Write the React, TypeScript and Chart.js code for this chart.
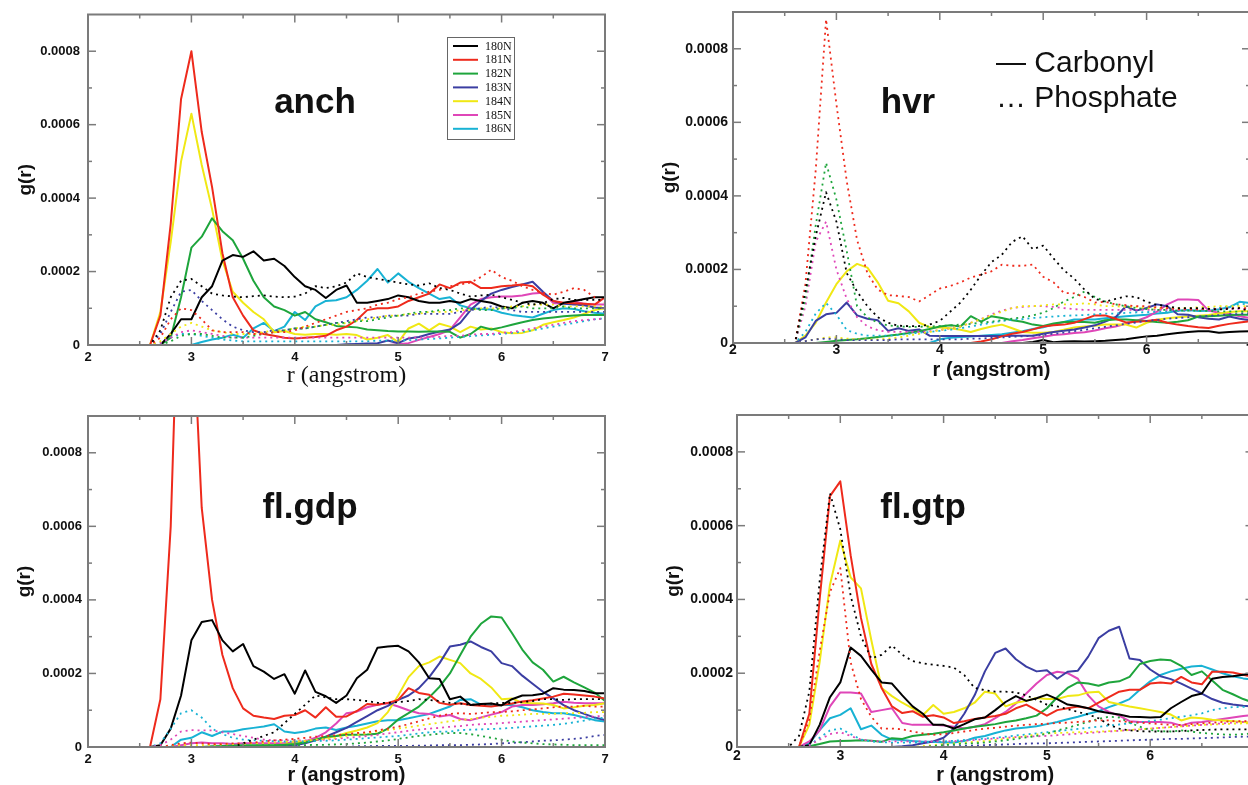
import { useEffect, useRef } from 'react';
import { Chart, registerables } from 'chart.js';

Chart.register(...registerables);

const SANS = "'Liberation Sans', Arial, Helvetica, sans-serif";
const SERIF = "'Liberation Serif', 'Times New Roman', serif";
Chart.defaults.font.family = SANS;

// r (angstrom) sample positions
const R = [2.0, 2.5, 2.6, 2.7, 2.8, 2.9, 3.0, 3.1, 3.2, 3.3, 3.4, 3.5, 3.6, 3.7, 3.8, 3.9, 4.0, 4.1, 4.2, 4.3, 4.4, 4.5, 4.6, 4.7, 4.8, 4.9, 5.0, 5.1, 5.2, 5.3, 5.4, 5.5, 5.6, 5.7, 5.8, 5.9, 6.0, 6.1, 6.2, 6.3, 6.4, 6.5, 6.6, 6.7, 6.8, 6.9, 7.0];
// values below are g(r) in units of 1e-4
const G_UNIT = 1e-4;

const X_MAJOR = [2, 3, 4, 5, 6, 7];
const X_TICK_LABELS = ['2', '3', '4', '5', '6', '7'];
const X_MINOR = [2.5, 3.5, 4.5, 5.5, 6.5];
const Y_TICKS = [0, 0.0002, 0.0004, 0.0006, 0.0008];
const Y_TICK_LABELS = ['0', '0.0002', '0.0004', '0.0006', '0.0008'];
const Y_MINOR = [0.0001, 0.0003, 0.0005, 0.0007];
const Y_MAX = 0.0009;
const X_TITLE = 'r (angstrom)';
const Y_TITLE = 'g(r)';

const RESIDUES = ['180N', '181N', '182N', '183N', '184N', '185N', '186N'];
const COLORS = ['#000000', '#ee2a1c', '#1ea53c', '#3b3ea2', '#f0e814', '#df46b8', '#18b2d4'];
const TYPE_LABELS = ['\u2014 Carbonyl', '\u2026 Phosphate'];

// ---------- anch ----------
const ANCH_180 = [0, 0, 0, 0, 0.3, 0.7, 0.7, 1.3, 1.6, 2.3, 2.45, 2.4, 2.55, 2.3, 2.35, 2.15, 1.85, 1.6, 1.5, 1.28, 1.5, 1.62, 1.15, 1.15, 1.2, 1.25, 1.35, 1.3, 1.2, 1.15, 1.15, 1.2, 1.15, 1.25, 1.2, 1.15, 1.05, 1.0, 1.15, 1.2, 1.15, 1.0, 1.15, 1.2, 1.25, 1.3, 1.3];
const ANCH_181 = [0, 0, 0, 0.8, 3.3, 6.7, 8.0, 5.8, 4.3, 2.5, 1.3, 0.8, 0.4, 0.3, 0.25, 0.2, 0.18, 0.2, 0.22, 0.25, 0.4, 0.5, 0.68, 0.95, 1.0, 1.0, 1.05, 1.2, 1.3, 1.4, 1.65, 1.55, 1.7, 1.72, 1.55, 1.55, 1.6, 1.62, 1.65, 1.6, 1.37, 1.2, 1.15, 1.14, 1.12, 1.1, 1.3];
const ANCH_182 = [0, 0, 0, 0, 0.2, 1.3, 2.65, 2.95, 3.45, 3.1, 2.85, 2.35, 1.75, 1.3, 1.05, 0.95, 0.8, 0.9, 0.7, 0.62, 0.52, 0.5, 0.48, 0.42, 0.4, 0.38, 0.37, 0.37, 0.36, 0.37, 0.37, 0.36, 0.2, 0.3, 0.5, 0.42, 0.48, 0.55, 0.62, 0.68, 0.72, 0.75, 0.78, 0.8, 0.82, 0.82, 0.82];
const ANCH_183 = [0, 0, 0, 0, 0, 0, 0, 0, 0, 0, 0, 0, 0, 0, 0, 0, 0, 0, 0, 0, 0, 0.02, 0.03, 0.04, 0.05, 0.12, 0.05, 0.18, 0.22, 0.3, 0.37, 0.42, 0.6, 0.95, 1.2, 1.4, 1.5, 1.58, 1.65, 1.72, 1.45, 1.2, 1.12, 1.1, 1.08, 1.02, 1.0];
const ANCH_184 = [0, 0, 0, 0.9, 2.8, 5.0, 6.3, 4.9, 3.7, 2.3, 1.45, 1.15, 0.9, 0.7, 0.35, 0.38, 0.3, 0.28, 0.3, 0.3, 0.28, 0.3, 0.27, 0.15, 0.2, 0.27, 0.08, 0.45, 0.58, 0.4, 0.58, 0.5, 0.35, 0.5, 0.42, 0.45, 0.35, 0.32, 0.33, 0.4, 0.55, 0.62, 0.68, 0.75, 0.85, 0.95, 1.0];
const ANCH_185 = [0, 0, 0, 0, 0, 0, 0, 0, 0, 0, 0, 0, 0, 0, 0, 0, 0, 0, 0, 0, 0, 0, 0, 0, 0, 0, 0.02, 0.05, 0.14, 0.22, 0.3, 0.41, 0.75, 1.1, 1.25, 1.3, 1.32, 1.32, 1.35, 1.4, 1.42, 1.14, 1.14, 1.19, 1.12, 1.1, 1.1];
const ANCH_186 = [0, 0, 0, 0, 0, 0, 0, 0.08, 0.15, 0.2, 0.28, 0.2, 0.45, 0.6, 0.38, 0.5, 0.9, 0.68, 1.05, 1.2, 1.22, 1.3, 1.5, 1.75, 2.07, 1.7, 1.95, 1.72, 1.55, 1.4, 1.25, 1.3, 1.08, 1.0, 0.98, 0.97, 0.88, 0.82, 0.78, 0.75, 0.85, 0.95, 1.0, 0.98, 0.92, 0.88, 0.85];
const ANCH_180_P = [0, 0, 0, 0.4, 1.3, 1.75, 1.8, 1.6, 1.4, 1.35, 1.32, 1.3, 1.33, 1.35, 1.32, 1.3, 1.32, 1.4, 1.6, 1.55, 1.6, 1.7, 1.95, 1.85, 1.8, 1.75, 1.7, 1.65, 1.62, 1.68, 1.55, 1.5, 1.4, 1.32, 1.35, 1.37, 1.3, 1.23, 1.15, 1.1, 1.14, 1.25, 1.28, 1.23, 1.23, 1.23, 1.23];
const ANCH_181_P = [0, 0, 0, 0.2, 0.7, 1.0, 0.95, 0.7, 0.4, 0.35, 0.35, 0.35, 0.3, 0.3, 0.35, 0.35, 0.4, 0.5, 0.6, 0.7, 0.8, 0.9, 0.95, 1.0, 1.1, 1.15, 1.25, 1.3, 1.4, 1.45, 1.5, 1.6, 1.65, 1.7, 1.85, 2.05, 1.85, 1.75, 1.6, 1.5, 1.42, 1.37, 1.45, 1.55, 1.5, 1.3, 1.15];
const ANCH_182_P = [0, 0, 0, 0, 0.1, 0.25, 0.3, 0.3, 0.25, 0.2, 0.2, 0.2, 0.25, 0.3, 0.35, 0.4, 0.45, 0.45, 0.5, 0.55, 0.6, 0.6, 0.65, 0.65, 0.7, 0.75, 0.8, 0.85, 0.9, 0.9, 0.95, 0.95, 1.0, 1.0, 0.95, 0.95, 1.0, 1.0, 1.05, 1.0, 1.0, 1.0, 1.05, 1.0, 1.0, 1.0, 1.0];
const ANCH_183_P = [0, 0, 0, 0.3, 0.9, 1.45, 1.5, 1.2, 0.95, 0.7, 0.5, 0.4, 0.35, 0.35, 0.4, 0.4, 0.45, 0.45, 0.5, 0.55, 0.6, 0.65, 0.7, 0.75, 0.75, 0.8, 0.8, 0.8, 0.85, 0.85, 0.85, 0.85, 0.9, 0.95, 1.0, 1.05, 1.0, 0.95, 0.9, 0.9, 0.9, 0.9, 0.9, 0.9, 0.9, 0.9, 0.9];
const ANCH_184_P = [0, 0, 0, 0.1, 0.3, 0.5, 0.6, 0.5, 0.4, 0.35, 0.3, 0.3, 0.3, 0.35, 0.4, 0.4, 0.45, 0.5, 0.5, 0.55, 0.55, 0.6, 0.65, 0.7, 0.75, 0.8, 0.8, 0.85, 0.85, 0.9, 0.9, 0.9, 0.95, 0.95, 1.0, 1.0, 1.0, 1.05, 1.05, 1.1, 1.1, 1.1, 1.05, 1.05, 1.05, 1.05, 1.05];
const ANCH_185_P = [0, 0, 0, 0.05, 0.2, 0.35, 0.4, 0.35, 0.3, 0.25, 0.2, 0.2, 0.2, 0.2, 0.2, 0.2, 0.2, 0.2, 0.2, 0.2, 0.2, 0.2, 0.2, 0.2, 0.2, 0.2, 0.2, 0.2, 0.2, 0.22, 0.22, 0.25, 0.25, 0.28, 0.3, 0.3, 0.33, 0.35, 0.4, 0.45, 0.5, 0.55, 0.6, 0.65, 0.68, 0.7, 0.72];
const ANCH_186_P = [0, 0, 0, 0.05, 0.2, 0.3, 0.3, 0.25, 0.2, 0.15, 0.12, 0.1, 0.1, 0.1, 0.1, 0.1, 0.1, 0.1, 0.1, 0.1, 0.1, 0.1, 0.1, 0.1, 0.12, 0.12, 0.12, 0.13, 0.15, 0.16, 0.18, 0.2, 0.22, 0.24, 0.26, 0.28, 0.3, 0.33, 0.36, 0.4, 0.45, 0.5, 0.55, 0.6, 0.65, 0.7, 0.73];

// ---------- hvr ----------
const HVR_180 = [0, 0, 0, 0, 0, 0, 0, 0, 0, 0, 0, 0, 0, 0, 0, 0, 0, 0, 0, 0, 0, 0, 0, 0, 0, 0.03, 0.08, 0.02, 0.04, 0.05, 0.04, 0.05, 0.06, 0.08, 0.1, 0.14, 0.18, 0.2, 0.24, 0.27, 0.3, 0.32, 0.32, 0.28, 0.3, 0.31, 0.32];
const HVR_181 = [0, 0, 0, 0, 0, 0, 0, 0, 0, 0, 0, 0, 0, 0, 0, 0, 0, 0, 0, 0, 0.04, 0.1, 0.18, 0.25, 0.3, 0.37, 0.45, 0.48, 0.5, 0.55, 0.65, 0.75, 0.75, 0.66, 0.56, 0.58, 0.6, 0.63, 0.55, 0.5, 0.46, 0.43, 0.41, 0.47, 0.52, 0.56, 0.59];
const HVR_182 = [0, 0, 0, 0, 0, 0.03, 0.06, 0.08, 0.1, 0.13, 0.16, 0.2, 0.23, 0.27, 0.32, 0.38, 0.45, 0.48, 0.45, 0.73, 0.58, 0.73, 0.68, 0.62, 0.58, 0.5, 0.46, 0.53, 0.57, 0.58, 0.57, 0.55, 0.62, 0.64, 0.64, 0.62, 0.6, 0.57, 0.55, 0.58, 0.62, 0.72, 0.73, 0.74, 0.76, 0.77, 0.77];
const HVR_183 = [0, 0, 0, 0.15, 0.6, 0.78, 0.82, 1.1, 0.75, 0.66, 0.62, 0.33, 0.4, 0.33, 0.37, 0.2, 0.19, 0.19, 0.19, 0.19, 0.19, 0.19, 0.19, 0.2, 0.2, 0.2, 0.25, 0.3, 0.33, 0.37, 0.42, 0.48, 0.58, 0.7, 1.0, 0.88, 0.95, 1.05, 1.0, 0.78, 0.77, 0.7, 0.66, 0.64, 0.72, 0.66, 0.62];
const HVR_184 = [0, 0, 0, 0.2, 0.55, 1.1, 1.6, 1.95, 2.15, 2.05, 1.65, 1.15, 1.08, 0.86, 0.55, 0.43, 0.42, 0.4, 0.36, 0.3, 0.38, 0.45, 0.5, 0.4, 0.3, 0.28, 0.28, 0.3, 0.36, 0.42, 0.45, 0.47, 0.5, 0.5, 0.5, 0.42, 0.55, 0.63, 0.67, 0.7, 0.72, 0.74, 0.76, 0.8, 0.84, 0.86, 0.86];
const HVR_185 = [0, 0, 0, 0, 0, 0, 0, 0, 0, 0, 0, 0, 0, 0, 0, 0, 0, 0, 0, 0, 0, 0, 0, 0.05, 0.08, 0.13, 0.17, 0.22, 0.24, 0.27, 0.29, 0.34, 0.4, 0.45, 0.52, 0.6, 0.7, 0.85, 1.05, 1.18, 1.18, 1.17, 0.88, 0.82, 0.79, 0.73, 0.68];
const HVR_186 = [0, 0, 0, 0, 0, 0, 0, 0, 0, 0, 0, 0, 0, 0, 0, 0, 0.1, 0.14, 0.16, 0.18, 0.2, 0.22, 0.24, 0.28, 0.32, 0.38, 0.43, 0.5, 0.57, 0.64, 0.64, 0.64, 0.67, 0.7, 0.73, 0.75, 0.77, 0.8, 0.82, 0.88, 0.9, 0.87, 0.88, 0.92, 0.97, 1.12, 1.09];
const HVR_180_P = [0, 0, 0, 1.4, 2.9, 4.1, 3.3, 1.9, 1.4, 1.0, 0.7, 0.55, 0.47, 0.46, 0.46, 0.5, 0.6, 0.85, 1.1, 1.45, 1.85, 2.2, 2.4, 2.75, 2.9, 2.55, 2.65, 2.3, 1.98, 1.75, 1.45, 1.2, 1.12, 1.2, 1.27, 1.25, 1.12, 1.04, 1.0, 0.95, 0.95, 0.95, 0.93, 0.91, 0.93, 0.95, 0.86];
const HVR_181_P = [0, 0, 0, 1.6, 4.7, 8.8, 6.5, 4.4, 2.8, 1.9, 1.45, 1.3, 1.28, 1.25, 1.13, 1.3, 1.48, 1.55, 1.65, 1.78, 1.86, 1.95, 2.13, 2.1, 2.1, 2.13, 1.8, 1.65, 1.36, 1.35, 1.25, 1.1, 1.12, 1.05, 1.03, 1.0, 1.0, 0.97, 0.95, 0.92, 0.91, 0.91, 0.92, 0.93, 0.95, 0.95, 0.95];
const HVR_182_P = [0, 0, 0, 1.2, 3.2, 4.9, 3.9, 2.5, 1.0, 0.7, 0.55, 0.48, 0.45, 0.44, 0.44, 0.45, 0.46, 0.48, 0.5, 0.52, 0.55, 0.58, 0.62, 0.66, 0.7, 0.75, 0.82, 0.95, 1.13, 1.25, 1.4, 1.25, 1.13, 1.05, 1.0, 0.95, 0.92, 0.9, 0.9, 0.88, 0.88, 0.88, 0.87, 0.86, 0.86, 0.85, 0.85];
const HVR_183_P = [0, 0, 0, 0.05, 0.1, 0.12, 0.1, 0.08, 0.08, 0.08, 0.08, 0.08, 0.1, 0.1, 0.1, 0.1, 0.1, 0.1, 0.1, 0.12, 0.12, 0.14, 0.15, 0.17, 0.18, 0.2, 0.22, 0.25, 0.28, 0.32, 0.36, 0.4, 0.44, 0.48, 0.52, 0.56, 0.6, 0.63, 0.66, 0.68, 0.7, 0.72, 0.74, 0.76, 0.78, 0.79, 0.8];
const HVR_184_P = [0, 0, 0, 0.05, 0.1, 0.15, 0.15, 0.12, 0.1, 0.1, 0.1, 0.12, 0.15, 0.2, 0.25, 0.3, 0.35, 0.4, 0.45, 0.55, 0.65, 0.75, 0.85, 0.95, 1.0, 1.0, 1.02, 1.05, 1.05, 1.05, 1.08, 1.05, 1.0, 1.0, 0.98, 0.98, 0.95, 0.95, 0.95, 0.95, 0.95, 0.97, 0.98, 1.0, 1.0, 1.0, 1.0];
const HVR_185_P = [0, 0, 0, 1.0, 2.75, 3.3, 2.0, 1.2, 0.7, 0.45, 0.35, 0.3, 0.3, 0.3, 0.3, 0.32, 0.35, 0.4, 0.45, 0.55, 0.65, 0.78, 0.88, 0.95, 0.98, 1.0, 1.0, 0.98, 0.95, 0.92, 0.9, 0.9, 0.9, 0.9, 0.9, 0.9, 0.9, 0.9, 0.9, 0.9, 0.92, 0.92, 0.92, 0.92, 0.93, 0.93, 0.93];
const HVR_186_P = [0, 0, 0, 0.3, 0.8, 1.09, 0.77, 0.35, 0.25, 0.2, 0.2, 0.2, 0.22, 0.25, 0.28, 0.3, 0.33, 0.36, 0.4, 0.45, 0.5, 0.55, 0.6, 0.63, 0.65, 0.68, 0.7, 0.72, 0.74, 0.75, 0.76, 0.78, 0.8, 0.8, 0.82, 0.83, 0.84, 0.85, 0.86, 0.87, 0.88, 0.9, 0.92, 0.95, 1.0, 1.05, 1.08];

// ---------- fl.gdp ----------
const GDP_180 = [0, 0, 0, 0.05, 0.5, 1.4, 2.9, 3.4, 3.45, 2.9, 2.6, 2.8, 2.2, 2.05, 1.85, 1.98, 1.45, 2.08, 1.5, 1.38, 1.2, 1.4, 1.87, 2.1, 2.7, 2.73, 2.75, 2.6, 2.3, 1.87, 1.85, 1.3, 1.37, 1.14, 1.17, 1.18, 1.13, 1.3, 1.4, 1.41, 1.45, 1.6, 1.56, 1.55, 1.52, 1.46, 1.46];
const GDP_181 = [0, 0, 0, 1.3, 6.0, 15, 12.5, 6.5, 4.0, 2.5, 1.6, 1.05, 0.85, 0.8, 0.76, 0.85, 0.87, 1.0, 0.8, 1.08, 0.82, 0.83, 0.98, 1.17, 1.15, 1.2, 1.28, 1.6, 1.47, 1.42, 1.2, 1.15, 1.19, 1.14, 1.12, 1.1, 1.14, 1.18, 1.24, 1.27, 1.32, 1.37, 1.45, 1.43, 1.4, 1.37, 1.32];
const GDP_182 = [0, 0, 0, 0, 0, 0, 0, 0, 0.02, 0.03, 0.04, 0.05, 0.05, 0.05, 0.05, 0.06, 0.08, 0.12, 0.2, 0.28, 0.3, 0.33, 0.33, 0.34, 0.36, 0.5, 0.75, 0.92, 1.1, 1.35, 1.64, 2.0, 2.5, 3.0, 3.35, 3.55, 3.52, 3.1, 2.65, 2.3, 2.1, 1.78, 1.91, 1.76, 1.62, 1.48, 1.25];
const GDP_183 = [0, 0, 0, 0, 0, 0, 0, 0, 0, 0, 0, 0.02, 0.02, 0.02, 0.03, 0.03, 0.05, 0.1, 0.18, 0.28, 0.4, 0.52, 0.68, 0.84, 1.0, 1.12, 1.28, 1.4, 1.6, 1.9, 2.28, 2.73, 2.78, 2.87, 2.72, 2.6, 2.28, 2.2, 1.94, 1.72, 1.5, 1.32, 1.14, 1.0, 0.9, 0.8, 0.73];
const GDP_184 = [0, 0, 0, 0, 0, 0, 0, 0, 0, 0, 0, 0.02, 0.03, 0.04, 0.05, 0.07, 0.1, 0.15, 0.2, 0.25, 0.3, 0.38, 0.45, 0.53, 0.65, 0.95, 1.4, 1.9, 2.2, 2.3, 2.46, 2.37, 2.28, 2.0, 1.85, 1.62, 1.3, 1.32, 1.2, 1.19, 1.18, 1.14, 1.05, 1.08, 1.12, 1.14, 1.19];
const GDP_185 = [0, 0, 0, 0, 0, 0.05, 0.1, 0.12, 0.1, 0.1, 0.08, 0.1, 0.1, 0.1, 0.1, 0.1, 0.12, 0.15, 0.25, 0.4, 0.64, 0.92, 0.96, 1.08, 1.15, 1.19, 1.1, 1.0, 0.92, 0.9, 0.83, 0.87, 0.76, 0.73, 0.8, 0.88, 0.95, 1.1, 1.14, 1.14, 1.16, 1.19, 1.23, 1.2, 1.19, 1.19, 1.19];
const GDP_186 = [0, 0, 0, 0, 0, 0.2, 0.25, 0.4, 0.3, 0.42, 0.42, 0.48, 0.52, 0.56, 0.62, 0.42, 0.38, 0.42, 0.5, 0.53, 0.46, 0.53, 0.58, 0.64, 0.7, 0.73, 0.73, 0.78, 0.84, 0.9, 1.0, 1.1, 1.28, 1.3, 1.15, 1.12, 1.14, 1.14, 1.08, 1.0, 0.95, 0.92, 0.92, 0.87, 0.8, 0.73, 0.69];
const GDP_180_P = [0, 0, 0, 0, 0, 0, 0, 0, 0, 0, 0, 0.1, 0.2, 0.3, 0.4, 0.65, 0.9, 1.15, 1.4, 1.35, 1.3, 1.3, 1.28, 1.25, 1.2, 1.2, 1.22, 1.25, 1.3, 1.28, 1.25, 1.2, 1.18, 1.15, 1.15, 1.18, 1.2, 1.2, 1.22, 1.25, 1.3, 1.3, 1.28, 1.3, 1.3, 1.3, 1.3];
const GDP_181_P = [0, 0, 0, 0, 0.05, 0.1, 0.12, 0.1, 0.08, 0.08, 0.1, 0.1, 0.12, 0.15, 0.18, 0.2, 0.22, 0.25, 0.28, 0.3, 0.32, 0.35, 0.38, 0.4, 0.45, 0.5, 0.55, 0.62, 0.7, 0.78, 0.85, 0.9, 0.92, 0.9, 0.92, 0.95, 0.95, 0.97, 1.0, 1.02, 1.05, 1.08, 1.1, 1.1, 1.12, 1.1, 1.1];
const GDP_182_P = [0, 0, 0, 0, 0, 0, 0, 0, 0, 0, 0.02, 0.03, 0.04, 0.05, 0.05, 0.05, 0.05, 0.05, 0.06, 0.06, 0.07, 0.08, 0.1, 0.12, 0.15, 0.18, 0.22, 0.26, 0.3, 0.33, 0.36, 0.38, 0.38, 0.35, 0.3, 0.25, 0.2, 0.15, 0.12, 0.1, 0.08, 0.07, 0.06, 0.05, 0.05, 0.05, 0.05];
const GDP_183_P = [0, 0, 0, 0, 0, 0, 0, 0, 0, 0, 0, 0, 0, 0, 0, 0, 0, 0, 0, 0, 0, 0, 0.02, 0.02, 0.03, 0.03, 0.03, 0.03, 0.04, 0.04, 0.05, 0.05, 0.05, 0.06, 0.07, 0.08, 0.1, 0.11, 0.13, 0.15, 0.17, 0.18, 0.2, 0.22, 0.25, 0.3, 0.33];
const GDP_184_P = [0, 0, 0, 0, 0.03, 0.05, 0.05, 0.05, 0.06, 0.07, 0.08, 0.09, 0.1, 0.11, 0.12, 0.14, 0.15, 0.17, 0.2, 0.22, 0.25, 0.3, 0.33, 0.37, 0.42, 0.46, 0.5, 0.54, 0.58, 0.62, 0.66, 0.7, 0.73, 0.76, 0.8, 0.82, 0.85, 0.86, 0.88, 0.9, 0.9, 0.9, 0.92, 0.92, 0.93, 0.95, 0.95];
const GDP_185_P = [0, 0, 0, 0.05, 0.2, 0.42, 0.46, 0.45, 0.45, 0.4, 0.35, 0.3, 0.25, 0.2, 0.18, 0.18, 0.18, 0.18, 0.19, 0.2, 0.22, 0.25, 0.27, 0.3, 0.33, 0.37, 0.4, 0.44, 0.47, 0.5, 0.52, 0.55, 0.57, 0.6, 0.62, 0.63, 0.65, 0.67, 0.69, 0.71, 0.73, 0.75, 0.77, 0.79, 0.81, 0.83, 0.85];
const GDP_186_P = [0, 0, 0, 0.1, 0.5, 0.92, 1.0, 0.8, 0.5, 0.35, 0.25, 0.2, 0.18, 0.17, 0.16, 0.15, 0.15, 0.15, 0.16, 0.17, 0.18, 0.2, 0.22, 0.24, 0.26, 0.28, 0.3, 0.33, 0.37, 0.4, 0.42, 0.42, 0.46, 0.47, 0.48, 0.49, 0.5, 0.52, 0.54, 0.56, 0.58, 0.6, 0.63, 0.67, 0.72, 0.77, 0.8];

// ---------- fl.gtp ----------
const GTP_180 = [0, 0, 0, 0.05, 0.6, 1.35, 1.75, 2.7, 2.47, 2.1, 1.75, 1.72, 1.4, 1.1, 0.9, 0.6, 0.6, 0.5, 0.62, 0.75, 0.8, 1.0, 1.22, 1.38, 1.25, 1.32, 1.42, 1.3, 1.15, 1.11, 1.05, 0.97, 0.92, 0.88, 0.82, 0.81, 0.8, 0.81, 1.05, 1.22, 1.38, 1.45, 1.85, 1.9, 1.92, 1.96, 1.99];
const GTP_181 = [0, 0, 0, 0.9, 4.0, 6.8, 7.2, 5.2, 3.5, 2.25, 1.6, 1.1, 0.92, 0.97, 0.82, 0.86, 0.8, 0.65, 0.7, 0.76, 0.8, 0.84, 0.9, 1.05, 1.15, 1.0, 0.85, 1.0, 1.05, 1.1, 1.05, 1.2, 1.35, 1.5, 1.55, 1.55, 1.72, 1.75, 1.72, 1.9, 1.75, 1.7, 2.04, 2.04, 2.02, 1.96, 1.9];
const GTP_182 = [0, 0, 0, 0.02, 0.08, 0.15, 0.16, 0.17, 0.18, 0.17, 0.14, 0.24, 0.22, 0.3, 0.33, 0.36, 0.4, 0.45, 0.5, 0.55, 0.58, 0.62, 0.68, 0.72, 0.78, 0.85, 1.05, 1.35, 1.6, 1.75, 1.72, 1.66, 1.75, 1.78, 1.9, 2.25, 2.33, 2.37, 2.35, 2.2, 1.95, 2.05, 1.8, 1.55, 1.43, 1.3, 1.2];
const GTP_183 = [0, 0, 0, 0, 0, 0, 0, 0, 0, 0, 0, 0, 0.02, 0.05, 0.1, 0.15, 0.25, 0.5, 0.9, 1.4, 2.05, 2.55, 2.67, 2.38, 2.18, 2.05, 2.08, 1.85, 2.04, 2.07, 2.45, 2.95, 3.15, 3.26, 2.4, 2.36, 2.1, 1.92, 1.84, 1.72, 1.58, 1.45, 1.3, 1.2, 1.15, 1.12, 1.1];
const GTP_184 = [0, 0, 0, 0.6, 2.3, 4.4, 5.6, 4.6, 4.3, 2.9, 1.6, 1.38, 1.2, 1.05, 0.87, 1.14, 0.9, 0.95, 1.05, 1.2, 1.5, 1.45, 1.1, 1.2, 1.25, 1.33, 1.3, 1.3, 1.38, 1.4, 1.48, 1.5, 1.22, 1.16, 1.1, 1.05, 1.0, 0.95, 0.88, 0.72, 0.8, 0.78, 0.74, 0.72, 0.7, 0.68, 0.66];
const GTP_185 = [0, 0, 0, 0.15, 0.45, 1.1, 1.48, 1.48, 1.45, 0.95, 1.0, 1.05, 0.65, 0.6, 0.6, 0.6, 0.58, 0.55, 0.5, 0.55, 0.62, 0.78, 0.95, 1.18, 1.45, 1.72, 1.95, 2.04, 2.0, 1.85, 1.4, 1.1, 0.95, 0.85, 0.7, 0.68, 0.68, 0.68, 0.66, 0.58, 0.66, 0.68, 0.72, 0.76, 0.8, 0.84, 0.87];
const GTP_186 = [0, 0, 0, 0.1, 0.46, 0.78, 0.87, 1.05, 0.48, 0.58, 0.33, 0.2, 0.19, 0.16, 0.14, 0.14, 0.12, 0.12, 0.16, 0.25, 0.3, 0.38, 0.45, 0.5, 0.53, 0.56, 0.62, 0.68, 0.75, 0.82, 0.9, 0.97, 1.08, 1.18, 1.3, 1.55, 1.78, 1.95, 2.05, 2.12, 2.18, 2.2, 2.1, 2.0, 1.92, 1.86, 1.82];
const GTP_180_P = [0, 0, 0.3, 1.5, 4.5, 6.88, 5.9, 4.1, 3.0, 2.4, 2.5, 2.75, 2.5, 2.33, 2.27, 2.23, 2.2, 2.15, 1.95, 1.6, 1.54, 1.5, 1.5, 1.48, 1.4, 1.28, 1.15, 1.1, 1.03, 0.95, 0.88, 0.78, 0.6, 0.5, 0.45, 0.43, 0.42, 0.42, 0.42, 0.43, 0.45, 0.46, 0.47, 0.48, 0.48, 0.48, 0.48];
const GTP_181_P = [0, 0, 0, 0.75, 2.6, 4.2, 4.85, 2.3, 1.3, 0.82, 0.5, 0.5, 0.48, 0.42, 0.37, 0.33, 0.35, 0.38, 0.42, 0.46, 0.5, 0.52, 0.55, 0.58, 0.6, 0.62, 0.63, 0.65, 0.66, 0.68, 0.7, 0.72, 0.72, 0.7, 0.68, 0.66, 0.64, 0.62, 0.6, 0.6, 0.62, 0.64, 0.66, 0.68, 0.7, 0.7, 0.7];
const GTP_182_P = [0, 0, 0, 0, 0, 0, 0, 0, 0, 0, 0, 0, 0, 0, 0, 0.03, 0.05, 0.07, 0.09, 0.1, 0.12, 0.15, 0.18, 0.22, 0.26, 0.3, 0.36, 0.45, 0.52, 0.6, 0.68, 0.76, 0.82, 0.8, 0.66, 0.55, 0.46, 0.43, 0.42, 0.45, 0.42, 0.38, 0.36, 0.34, 0.33, 0.35, 0.37];
const GTP_183_P = [0, 0, 0, 0, 0, 0, 0, 0, 0, 0, 0, 0, 0, 0, 0, 0, 0, 0.02, 0.03, 0.04, 0.05, 0.06, 0.07, 0.08, 0.09, 0.1, 0.1, 0.11, 0.12, 0.13, 0.14, 0.15, 0.16, 0.17, 0.18, 0.19, 0.2, 0.21, 0.22, 0.22, 0.23, 0.24, 0.25, 0.26, 0.27, 0.28, 0.28];
const GTP_184_P = [0, 0, 0, 0, 0, 0, 0, 0, 0, 0, 0, 0, 0, 0, 0.03, 0.05, 0.08, 0.1, 0.12, 0.14, 0.16, 0.19, 0.22, 0.26, 0.3, 0.34, 0.37, 0.38, 0.39, 0.4, 0.41, 0.42, 0.43, 0.44, 0.46, 0.48, 0.5, 0.52, 0.54, 0.56, 0.58, 0.6, 0.61, 0.62, 0.63, 0.64, 0.64];
const GTP_185_P = [0, 0, 0, 0.05, 0.2, 0.35, 0.4, 0.3, 0.2, 0.17, 0.15, 0.15, 0.15, 0.15, 0.15, 0.15, 0.15, 0.16, 0.17, 0.19, 0.21, 0.23, 0.25, 0.27, 0.28, 0.29, 0.3, 0.32, 0.34, 0.36, 0.38, 0.4, 0.42, 0.44, 0.46, 0.48, 0.5, 0.52, 0.54, 0.56, 0.58, 0.6, 0.62, 0.64, 0.66, 0.68, 0.7];
const GTP_186_P = [0, 0, 0, 0.05, 0.25, 0.45, 0.5, 0.35, 0.2, 0.15, 0.13, 0.12, 0.12, 0.12, 0.13, 0.14, 0.15, 0.17, 0.19, 0.21, 0.23, 0.25, 0.28, 0.31, 0.34, 0.37, 0.4, 0.43, 0.46, 0.49, 0.52, 0.55, 0.58, 0.61, 0.64, 0.67, 0.7, 0.74, 0.78, 0.82, 0.86, 0.91, 1.0, 1.05, 1.08, 1.09, 1.09];

type PanelDef = {
  key: string;
  title: string;
  left: number;
  top: number;
  width: number;
  height: number;
  area: { l: number; r: number; t: number; b: number };
  solid: number[][];
  phosphate: number[][];
  xTitleFamily: string;
  xTitleSize: number;
  xTitleWeight: string;
  xTitleCy: number;
  yTitleCx: number;
  yTickPad: number;
  tickSize: number;
  xTickPad: number;
  titleX: number;
  titleY: number;
  legend: 'residues' | 'types' | null;
};

const PANELS: PanelDef[] = [
  {
    key: 'anch', title: 'anch', left: 0, top: 0, width: 620, height: 392,
    area: { l: 88, r: 605, t: 14, b: 345 },
    solid: [ANCH_180, ANCH_181, ANCH_182, ANCH_183, ANCH_184, ANCH_185, ANCH_186],
    phosphate: [ANCH_180_P, ANCH_181_P, ANCH_182_P, ANCH_183_P, ANCH_184_P, ANCH_185_P, ANCH_186_P],
    xTitleFamily: SERIF, xTitleSize: 24, xTitleWeight: 'normal', xTitleCy: 376,
    yTitleCx: 26, yTickPad: 8, tickSize: 13, xTickPad: 5.5, titleX: 315, titleY: 113, legend: 'residues',
  },
  {
    key: 'hvr', title: 'hvr', left: 620, top: 0, width: 640, height: 392,
    area: { l: 113, r: 630, t: 10, b: 343 },
    solid: [HVR_180, HVR_181, HVR_182, HVR_183, HVR_184, HVR_185, HVR_186],
    phosphate: [HVR_180_P, HVR_181_P, HVR_182_P, HVR_183_P, HVR_184_P, HVR_185_P, HVR_186_P],
    xTitleFamily: SANS, xTitleSize: 20, xTitleWeight: 'bold', xTitleCy: 370,
    yTitleCx: 50, yTickPad: 5, tickSize: 14, xTickPad: 0, titleX: 288, titleY: 113, legend: 'types',
  },
  {
    key: 'gdp', title: 'fl.gdp', left: 0, top: 392, width: 620, height: 393,
    area: { l: 88, r: 605, t: 24, b: 355 },
    solid: [GDP_180, GDP_181, GDP_182, GDP_183, GDP_184, GDP_185, GDP_186],
    phosphate: [GDP_180_P, GDP_181_P, GDP_182_P, GDP_183_P, GDP_184_P, GDP_185_P, GDP_186_P],
    xTitleFamily: SANS, xTitleSize: 20, xTitleWeight: 'bold', xTitleCy: 383,
    yTitleCx: 25, yTickPad: 6, tickSize: 13, xTickPad: 5.5, titleX: 310, titleY: 126, legend: null,
  },
  {
    key: 'gtp', title: 'fl.gtp', left: 620, top: 392, width: 640, height: 393,
    area: { l: 117, r: 633.5, t: 23, b: 355 },
    solid: [GTP_180, GTP_181, GTP_182, GTP_183, GTP_184, GTP_185, GTP_186],
    phosphate: [GTP_180_P, GTP_181_P, GTP_182_P, GTP_183_P, GTP_184_P, GTP_185_P, GTP_186_P],
    xTitleFamily: SANS, xTitleSize: 20, xTitleWeight: 'bold', xTitleCy: 383,
    yTitleCx: 54, yTickPad: 4, tickSize: 14, xTickPad: 2, titleX: 303, titleY: 126, legend: null,
  },
];

const FRAME_COLOR = '#7b7b7b';

const framePlugin = {
  id: 'frameTicks',
  afterDatasetsDraw(chart: any) {
    const { ctx, chartArea: a, scales } = chart;
    const x = scales.x;
    const y = scales.y;
    ctx.save();
    ctx.strokeStyle = FRAME_COLOR;
    ctx.lineWidth = 1.5;
    const seg = (x1: number, y1: number, x2: number, y2: number) => {
      ctx.beginPath();
      ctx.moveTo(x1, y1);
      ctx.lineTo(x2, y2);
      ctx.stroke();
    };
    X_MAJOR.forEach((v) => {
      const px = x.getPixelForValue(v);
      seg(px, a.bottom, px, a.bottom - 8);
      seg(px, a.top, px, a.top + 8);
    });
    X_MINOR.forEach((v) => {
      const px = x.getPixelForValue(v);
      seg(px, a.bottom, px, a.bottom - 4);
      seg(px, a.top, px, a.top + 4);
    });
    Y_TICKS.forEach((v) => {
      const py = y.getPixelForValue(v);
      seg(a.left, py, a.left + 8, py);
      seg(a.right, py, a.right - 8, py);
    });
    Y_MINOR.forEach((v) => {
      const py = y.getPixelForValue(v);
      seg(a.left, py, a.left + 4, py);
      seg(a.right, py, a.right - 4, py);
    });
    ctx.lineWidth = 2;
    ctx.strokeRect(a.left, a.top, a.right - a.left, a.bottom - a.top);
    ctx.restore();
  },
};

function decorPlugin(p: PanelDef) {
  return {
    id: 'decor_' + p.key,
    afterDraw(chart: any) {
      const ctx = chart.ctx;
      ctx.save();
      ctx.fillStyle = '#111';
      ctx.font = `bold 35px ${SANS}`;
      ctx.textAlign = 'center';
      ctx.textBaseline = 'alphabetic';
      ctx.fillText(p.title, p.titleX, p.titleY);
      if (p.legend === 'residues') {
        ctx.strokeStyle = '#666';
        ctx.lineWidth = 1;
        ctx.strokeRect(447.5, 37.5, 67, 102);
        ctx.font = `12px ${SERIF}`;
        ctx.textAlign = 'left';
        ctx.textBaseline = 'middle';
        RESIDUES.forEach((name, i) => {
          const yy = 46 + i * 13.8;
          ctx.strokeStyle = COLORS[i];
          ctx.lineWidth = 2;
          ctx.beginPath();
          ctx.moveTo(453, yy);
          ctx.lineTo(478, yy);
          ctx.stroke();
          ctx.fillStyle = '#111';
          ctx.fillText(name, 485, yy + 0.5);
        });
      } else if (p.legend === 'types') {
        ctx.font = `30px ${SANS}`;
        ctx.textAlign = 'left';
        ctx.textBaseline = 'alphabetic';
        ctx.fillStyle = '#111';
        ctx.fillText(TYPE_LABELS[0], 376, 72);
        ctx.fillText(TYPE_LABELS[1], 376, 107);
      }
      ctx.restore();
    },
  };
}

function buildConfig(p: PanelDef): any {
  const toPoints = (vals: number[]) => R.map((r, j) => ({ x: r, y: vals[j] * G_UNIT }));
  const dotted = p.phosphate.map((vals, i) => ({
    label: RESIDUES[i] + ' Phosphate',
    data: toPoints(vals),
    borderColor: COLORS[i],
    borderWidth: 1.8,
    borderDash: [2, 4],
    pointRadius: 0,
    fill: false,
  }));
  const solid = p.solid.map((vals, i) => ({
    label: RESIDUES[i] + ' Carbonyl',
    data: toPoints(vals),
    borderColor: COLORS[i],
    borderWidth: 2,
    pointRadius: 0,
    fill: false,
  }));
  const xTitlePadBottom = Math.max(0, p.height - p.xTitleCy - p.xTitleSize / 2);
  const yTitleSize = 19;
  const yTitlePadTop = p.yTitleCx - yTitleSize / 2;
  return {
    type: 'line',
    data: { datasets: [...dotted, ...solid] },
    options: {
      responsive: false,
      animation: false,
      events: [],
      layout: { padding: { left: 0, top: p.area.t, right: p.width - p.area.r, bottom: 0 } },
      plugins: { legend: { display: false }, tooltip: { enabled: false }, title: { display: false } },
      elements: { point: { radius: 0 }, line: { tension: 0, borderJoinStyle: 'round' } },
      scales: {
        x: {
          type: 'linear',
          min: 2,
          max: 7,
          grid: { display: false, drawTicks: false },
          border: { display: false },
          afterBuildTicks: (s: any) => {
            s.ticks = X_MAJOR.map((v) => ({ value: v }));
          },
          afterFit: (s: any) => {
            s.height = p.height - p.area.b;
          },
          ticks: {
            autoSkip: false,
            maxRotation: 0,
            padding: p.xTickPad,
            color: '#111',
            font: { family: SANS, size: p.tickSize, weight: 'bold', lineHeight: 1 },
            callback: (_v: any, i: number) => X_TICK_LABELS[i],
          },
          title: {
            display: true,
            text: X_TITLE,
            color: '#111',
            font: { family: p.xTitleFamily, size: p.xTitleSize, weight: p.xTitleWeight, lineHeight: 1 },
            padding: { top: 0, bottom: xTitlePadBottom },
          },
        },
        y: {
          type: 'linear',
          min: 0,
          max: Y_MAX,
          grid: { display: false, drawTicks: false },
          border: { display: false },
          afterBuildTicks: (s: any) => {
            s.ticks = Y_TICKS.map((v) => ({ value: v }));
          },
          afterFit: (s: any) => {
            s.width = p.area.l;
          },
          ticks: {
            padding: p.yTickPad,
            color: '#111',
            font: { family: SANS, size: p.tickSize, weight: 'bold', lineHeight: 1 },
            callback: (_v: any, i: number) => Y_TICK_LABELS[i],
          },
          title: {
            display: true,
            text: Y_TITLE,
            color: '#111',
            font: { family: SANS, size: yTitleSize, weight: 'bold', lineHeight: 1 },
            padding: { top: yTitlePadTop, bottom: 0 },
          },
        },
      },
    },
    plugins: [framePlugin, decorPlugin(p)],
  };
}

function Panel({ p }: { p: PanelDef }) {
  const ref = useRef<HTMLCanvasElement | null>(null);
  useEffect(() => {
    if (!ref.current) return;
    const chart = new Chart(ref.current, buildConfig(p));
    return () => chart.destroy();
  }, [p]);
  return (
    <canvas
      ref={ref}
      width={p.width}
      height={p.height}
      style={{ position: 'absolute', left: p.left, top: p.top, width: p.width, height: p.height }}
    />
  );
}

export default function App() {
  return (
    <div
      style={{
        position: 'fixed',
        left: 0,
        top: 0,
        width: 1248,
        height: 785,
        overflow: 'hidden',
        background: '#ffffff',
      }}
    >
      {PANELS.map((p) => (
        <Panel key={p.key} p={p} />
      ))}
    </div>
  );
}
